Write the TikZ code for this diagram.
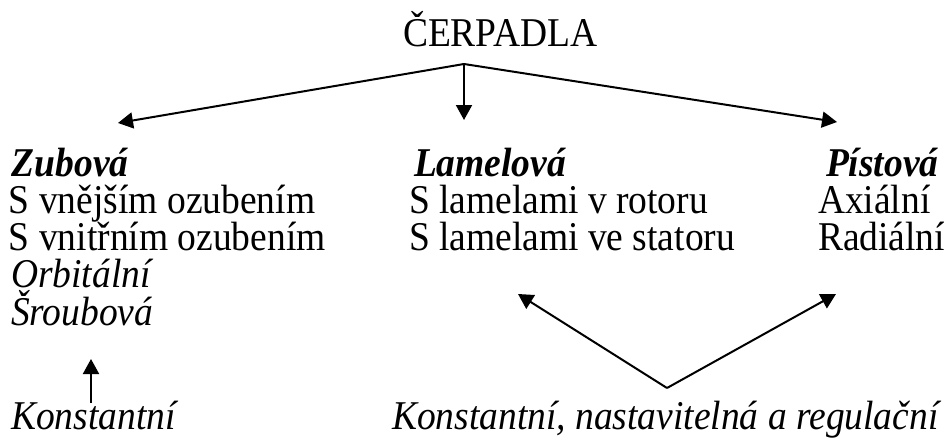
\documentclass[tikz,border=0pt]{standalone}
\usepackage{graphicx}
\usepackage{fontspec}
\setmainfont{Liberation Serif}
\usetikzlibrary{arrows.meta}
% letters are set a little taller than wide
\newcommand{\tallglyphs}[1]{\scalebox{1}[1.09]{#1}}
\tikzset{
  txt/.style={anchor=base west, inner sep=0pt, outer sep=0pt, font=\fontsize{37.5}{40}\selectfont},
  head/.style={txt, font=\fontsize{37.5}{40}\selectfont\bfseries\itshape},
  ital/.style={txt, font=\fontsize{37.5}{40}\selectfont\itshape},
  link/.style={line width=2pt, -{Triangle[length=15pt, width=16pt]}}
}
\begin{document}
\begin{tikzpicture}[x=1pt, y=-1pt]
  \useasboundingbox (0,0) rectangle (947,439);

  % title
  \node[txt] (title) at (403,46) {\tallglyphs{ČERPADLA}};

  % column: gear pumps
  \node[head] (zub) at (12,176) {\tallglyphs{Zubová}};
  \node[txt] (zub1) at (9,213) {\tallglyphs{S vnějším ozubením}};
  \node[txt] (zub2) at (9,250) {\tallglyphs{S vnitřním ozubením}};
  \node[ital] (zub3) at (11,287) {\tallglyphs{Orbitální}};
  \node[ital] (zub4) at (11,325) {\tallglyphs{Šroubová}};
  \node[ital] (konst) at (11,429) {\tallglyphs{Konstantní}};

  % column: vane pumps
  \node[head] (lam) at (414,176) {\tallglyphs{Lamelová}};
  \node[txt] (lam1) at (409,213) {\tallglyphs{S lamelami v rotoru}};
  \node[txt] (lam2) at (409,250) {\tallglyphs{S lamelami ve statoru}};

  % column: piston pumps
  \node[head] (pist) at (826,176) {\tallglyphs{Pístová}};
  \node[txt] (pist1) at (818,213) {\tallglyphs{Axiální}};
  \node[txt] (pist2) at (818,250) {\tallglyphs{Radiální}};

  \node[ital] (reg) at (392,429) {\tallglyphs{Konstantní, nastavitelná a regulační}};

  % branching points and arrow ends
  \coordinate (split) at (464,64);
  \coordinate (toZub) at (118,123);
  \coordinate (toLam) at (464,120);
  \coordinate (toPist) at (837,122);
  \coordinate (vee) at (667,388);
  \coordinate (toVane) at (518,294);
  \coordinate (toPiston) at (836,294);
  \coordinate (konstTop) at (91,403);
  \coordinate (screwBottom) at (91,359);

  % connectors
  \draw[link] (split) -- (toZub);
  \draw[link] (split) -- (toLam);
  \draw[link] (split) -- (toPist);
  \draw[link] (vee) -- (toVane);
  \draw[link] (vee) -- (toPiston);
  \draw[link] (konstTop) -- (screwBottom);
\end{tikzpicture}
\end{document}
